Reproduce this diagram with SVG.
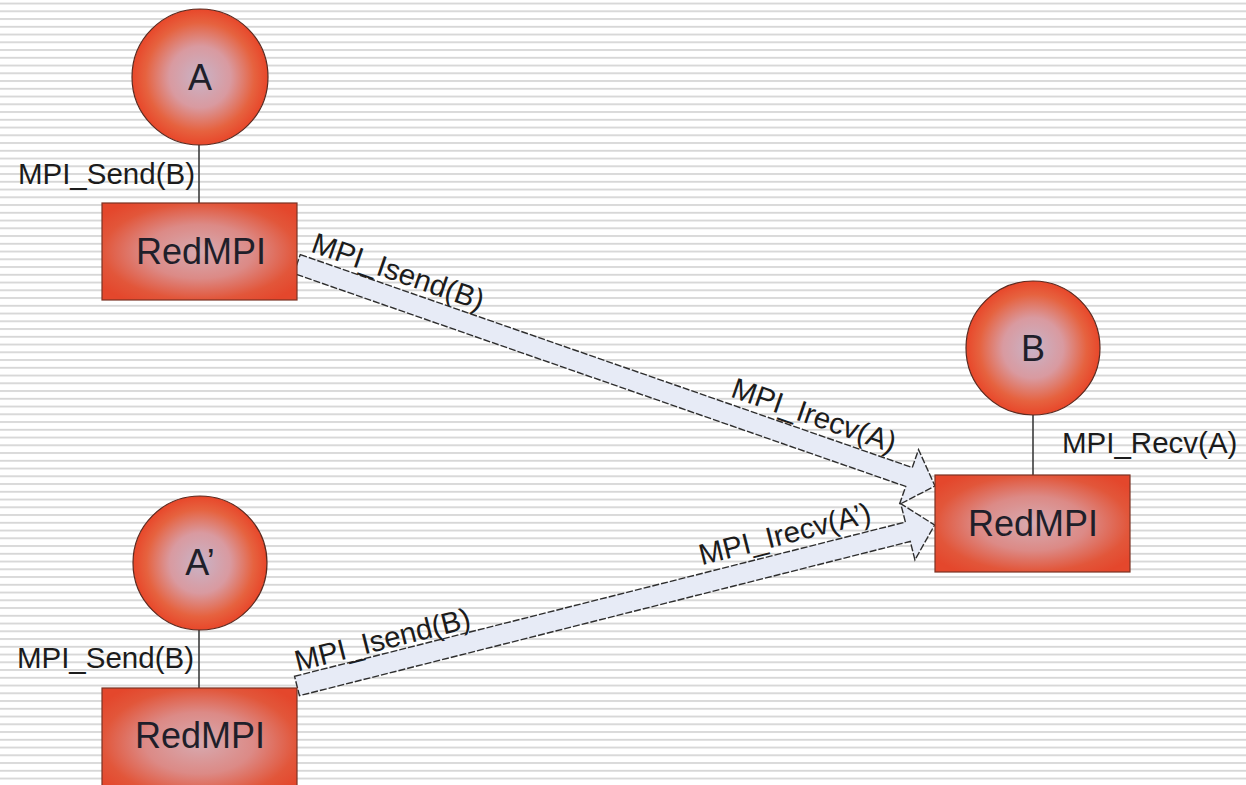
<svg xmlns="http://www.w3.org/2000/svg" width="1246" height="785" viewBox="0 0 1246 785">
  <defs>
    <!-- ruled background -->
    <pattern id="ruled" patternUnits="userSpaceOnUse" x="0" y="2.6" width="1246" height="7.75">
      <rect x="0" y="0" width="1246" height="7.75" fill="#ffffff"/>
      <rect x="0" y="0" width="1246" height="1.8" fill="#d6d6d6"/>
    </pattern>
    <radialGradient id="ballFill" cx="50%" cy="50%" r="50%">
      <stop offset="0" stop-color="#c9b3c6"/>
      <stop offset="0.45" stop-color="#d99aa0"/>
      <stop offset="0.8" stop-color="#e6623f"/>
      <stop offset="1" stop-color="#e8472a"/>
    </radialGradient>
    <radialGradient id="boxFill" cx="50%" cy="50%" r="62%">
      <stop offset="0" stop-color="#d7aab0"/>
      <stop offset="0.45" stop-color="#dc8a86"/>
      <stop offset="0.8" stop-color="#e2563a"/>
      <stop offset="1" stop-color="#e4472c"/>
    </radialGradient>
    <style>
      .ball { fill: url(#ballFill); stroke: #5b2a20; stroke-width: 1.2; }
      .box { fill: url(#boxFill); stroke: #7a3324; stroke-width: 1.2; }
      .stem { stroke: #3c3c3c; stroke-width: 1.6; }
      .pipe { fill: #e7ebf6; stroke: #2e2e2e; stroke-width: 1.4; stroke-dasharray: 7 2; stroke-linejoin: miter; }
      .id { font-family: "Liberation Sans", Arial, sans-serif; font-size: 36px; fill: #1f1f2a; text-anchor: middle; }
      .lbl { font-family: "Liberation Sans", Arial, sans-serif; font-size: 29.5px; fill: #1c1c1c; }
    </style>
  </defs>

  <rect x="0" y="0" width="1246" height="785" fill="url(#ruled)"/>

  <!-- block arrows and their call labels -->
  <g id="connectors">
    <g transform="translate(297 264) rotate(19.19)">
      <polygon class="pipe" points="0,-10 648,-10 648,-29 675.5,0 648,29 648,10 0,10"/>
      <text class="lbl" x="8" y="-16">MPI_Isend(B)</text>
      <text class="lbl" x="452" y="-17">MPI_Irecv(A)</text>
    </g>
    <g transform="translate(297 686) rotate(-14.17)">
      <polygon class="pipe" points="0,-10 630,-10 630,-29 657.6,0 630,29 630,10 0,10"/>
      <text class="lbl" x="4" y="-14">MPI_Isend(B)</text>
      <text class="lbl" x="422" y="-18">MPI_Irecv(A’)</text>
    </g>
    <line class="stem" x1="199" y1="145" x2="199" y2="203"/>
    <line class="stem" x1="1033" y1="415" x2="1033" y2="475"/>
    <line class="stem" x1="199" y1="630" x2="199" y2="688"/>
  </g>

  <g id="proc-a">
    <circle class="ball" cx="200" cy="77" r="68"/>
    <text class="id" x="200" y="90">A</text>
    <text class="lbl" x="195" y="184" text-anchor="end">MPI_Send(B)</text>
  </g>
  <g id="redmpi-a">
    <rect class="box" x="102" y="203" width="195" height="97"/>
    <text class="id" x="201" y="264">RedMPI</text>
  </g>

  <g id="proc-b">
    <circle class="ball" cx="1033" cy="348" r="67"/>
    <text class="id" x="1033" y="361">B</text>
    <text class="lbl" x="1062" y="453">MPI_Recv(A)</text>
  </g>
  <g id="redmpi-b">
    <rect class="box" x="935" y="475" width="195" height="97"/>
    <text class="id" x="1033" y="536">RedMPI</text>
  </g>

  <g id="proc-a-prime">
    <circle class="ball" cx="200" cy="563" r="67"/>
    <text class="id" x="200" y="575">A’</text>
    <text class="lbl" x="194" y="668" text-anchor="end">MPI_Send(B)</text>
  </g>
  <g id="redmpi-a-prime">
    <rect class="box" x="102" y="688" width="195" height="110"/>
    <text class="id" x="200" y="748">RedMPI</text>
  </g>
</svg>
